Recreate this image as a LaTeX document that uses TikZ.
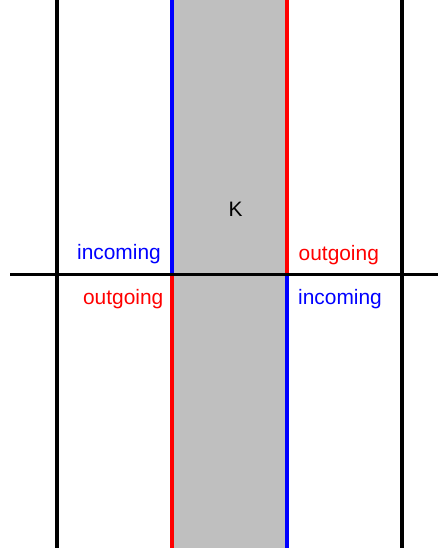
\documentclass[tikz,border=0pt]{standalone}
\usepackage{fontspec}
\setmainfont{Liberation Sans}
\begin{document}
\begin{tikzpicture}[x=1pt,y=-1pt,
  wall/.style={line width=4pt},
  lbl/.style={inner sep=0pt,font=\fontsize{20.9}{24}\selectfont}]
\useasboundingbox (0,0) rectangle (438,551);
\fill[fill={rgb,255:red,191;green,191;blue,191}] (172,0) rectangle (287,548);
\draw[wall,black] (57,0) -- (57,548);
\draw[wall,black] (402,0) -- (402,548);
\draw[wall,blue] (172,0) -- (172,274.5);
\draw[wall,red] (172,274.5) -- (172,548);
\draw[wall,red] (287,0) -- (287,274.5);
\draw[wall,blue] (287,274.5) -- (287,548);
\draw[line width=3.5pt,black] (10,274.5) -- (438,274.5);
\node[lbl,anchor=base east,text=blue] (lin) at (161,259.5) {incoming};
\node[lbl,anchor=base east,text=red] (lout) at (163.5,304.5) {outgoing};
\node[lbl,anchor=base west,text=red] (rout) at (298.5,260) {outgoing};
\node[lbl,anchor=base west,text=blue] (rin) at (298,304.2) {incoming};
\node[lbl,anchor=base] (k) at (235.5,216.7) {K};
\end{tikzpicture}
\end{document}
